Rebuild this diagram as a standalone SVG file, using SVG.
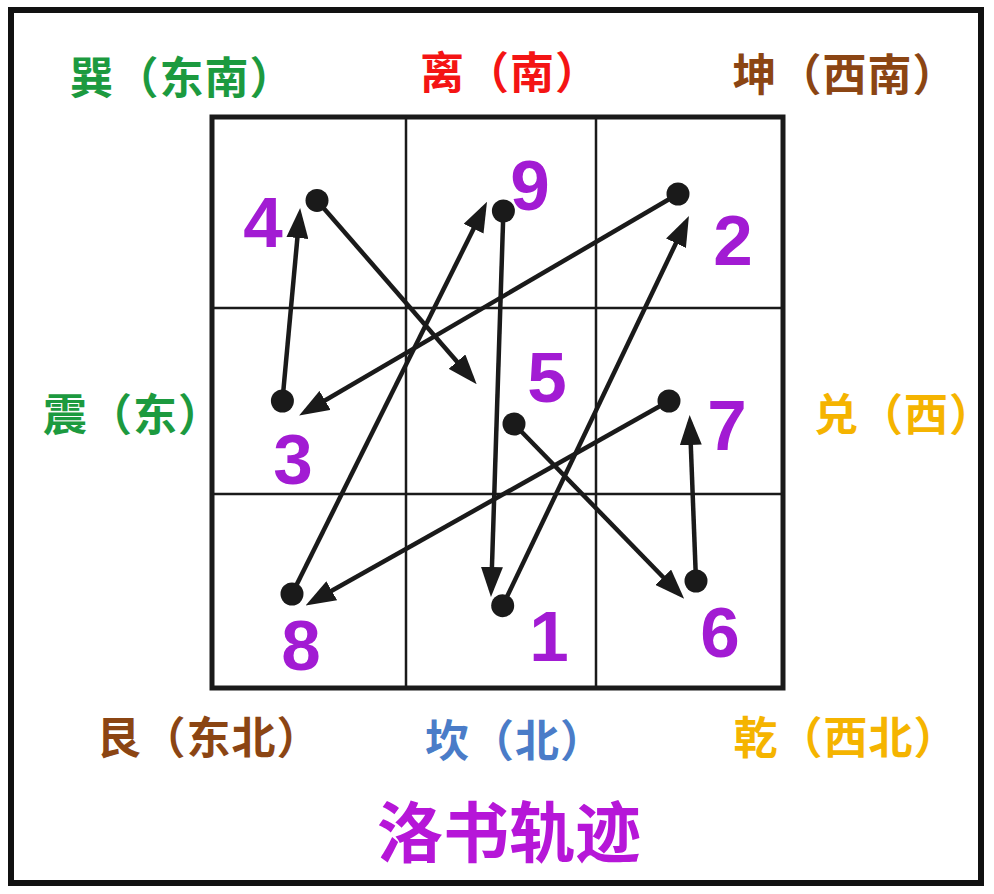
<svg xmlns="http://www.w3.org/2000/svg" width="994" height="894" viewBox="0 0 994 894">
<defs>
<marker id="ah" markerUnits="userSpaceOnUse" markerWidth="30" markerHeight="22" refX="23" refY="11" orient="auto">
<path d="M0,0 L30,11 L0,22 z" fill="#1a1a1a"/>
</marker>
<style>
.lbl{font-family:"Noto Sans CJK SC","Noto Sans",sans-serif;font-weight:700;font-size:44px;letter-spacing:1px;text-anchor:middle;dominant-baseline:central}
.num{font-family:"Liberation Sans","Noto Sans",Arial,sans-serif;font-weight:700;font-size:71px;fill:#a21bd3;text-anchor:middle}
.ln{stroke:#1a1a1a;stroke-width:4.5;fill:none;marker-end:url(#ah)}
.dot{fill:#1a1a1a}
.grid{stroke:#1a1a1a;fill:none}
</style>
</defs>
<rect x="0" y="0" width="994" height="894" fill="#ffffff"/>
<rect x="11" y="10" width="970" height="873" fill="none" stroke="#111" stroke-width="6"/>
<g id="grid">
<rect class="grid" x="212" y="117" width="571" height="571" stroke-width="5"/>
<line class="grid" x1="406" y1="117" x2="406" y2="688" stroke-width="2.5"/>
<line class="grid" x1="596" y1="117" x2="596" y2="688" stroke-width="2.5"/>
<line class="grid" x1="212" y1="308" x2="783" y2="308" stroke-width="2.5"/>
<line class="grid" x1="212" y1="494" x2="783" y2="494" stroke-width="2.5"/>
</g>
<g id="labels">
<text class="lbl" x="182" y="75" fill="#1c9a3f">巽（东南）</text>
<text class="lbl" x="510" y="70" fill="#f41414">离（南）</text>
<text class="lbl" x="845" y="72" fill="#8b4513">坤（西南）</text>
<text class="lbl" x="133" y="412" fill="#1c9a3f">震（东）</text>
<text class="lbl" x="904" y="412" fill="#f5b400">兑（西）</text>
<text class="lbl" x="209" y="735" fill="#8b4513">艮（东北）</text>
<text class="lbl" x="515" y="738" fill="#4a7cc8">坎（北）</text>
<text class="lbl" x="846" y="735" fill="#f5b400">乾（西北）</text>
<text class="lbl" x="509" y="828" fill="#b616d8" style="font-size:66px;letter-spacing:0">洛书轨迹</text>
</g>
<g id="connectors">
<line class="ln" x1="502.7" y1="605.7" x2="685.9" y2="222.4"/>
<line class="ln" x1="678" y1="194" x2="305.2" y2="412"/>
<line class="ln" x1="282.4" y1="401" x2="299.5" y2="215"/>
<line class="ln" x1="317" y1="200.4" x2="472.1" y2="379"/>
<line class="ln" x1="514" y1="424" x2="679.3" y2="593.7"/>
<line class="ln" x1="696" y1="581" x2="689.9" y2="422"/>
<line class="ln" x1="669" y1="401" x2="311.7" y2="602"/>
<line class="ln" x1="292" y1="594" x2="483.9" y2="208.1"/>
<line class="ln" x1="503.4" y1="211" x2="491.2" y2="590"/>
</g>
<g id="n1"><circle class="dot" cx="502.7" cy="605.7" r="11.5"/><text class="num" x="549" y="661">1</text></g>
<g id="n2"><circle class="dot" cx="678" cy="194" r="11.5"/><text class="num" x="733" y="265">2</text></g>
<g id="n3"><circle class="dot" cx="282.4" cy="401" r="11.5"/><text class="num" x="293" y="484">3</text></g>
<g id="n4"><circle class="dot" cx="317" cy="200.4" r="11.5"/><text class="num" x="263" y="247">4</text></g>
<g id="n5"><circle class="dot" cx="514" cy="424" r="11.5"/><text class="num" x="547" y="402">5</text></g>
<g id="n6"><circle class="dot" cx="696" cy="581" r="11.5"/><text class="num" x="720" y="657">6</text></g>
<g id="n7"><circle class="dot" cx="669" cy="401" r="11.5"/><text class="num" x="727" y="450">7</text></g>
<g id="n8"><circle class="dot" cx="292" cy="594" r="11.5"/><text class="num" x="301" y="670">8</text></g>
<g id="n9"><circle class="dot" cx="503.4" cy="211" r="11.5"/><text class="num" x="530" y="210">9</text></g>
</svg>
